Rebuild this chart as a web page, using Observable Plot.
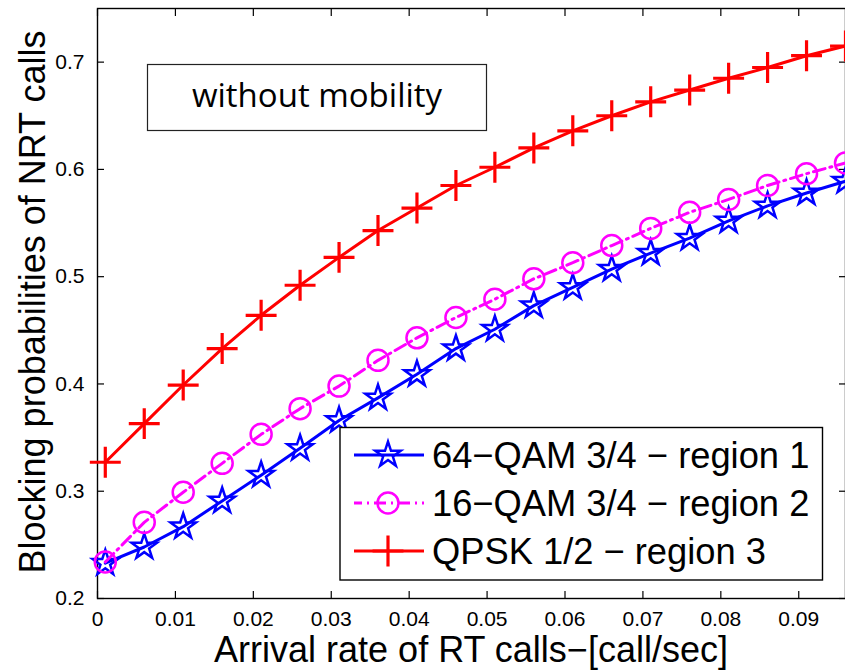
<!DOCTYPE html>
<html><head><meta charset="utf-8">
<script src="https://cdn.jsdelivr.net/npm/d3@7"></script>
<script src="https://cdn.jsdelivr.net/npm/@observablehq/plot@0.6"></script>
<style>body{margin:0;background:#fff;} svg{display:block}</style>
</head><body><div id="chart"></div>
<script>
// ---- data ----
const arrivalRate = [0.001, 0.006, 0.011, 0.016, 0.021, 0.026, 0.031, 0.036, 0.041, 0.046,
                     0.051, 0.056, 0.061, 0.066, 0.071, 0.076, 0.081, 0.086, 0.091, 0.096];
const qam64Region1 = [0.233, 0.248, 0.267, 0.291, 0.315, 0.340, 0.366, 0.387, 0.409, 0.433,
                      0.451, 0.473, 0.490, 0.507, 0.522, 0.536, 0.552, 0.566, 0.578, 0.589];
const qam16Region2 = [0.234, 0.271, 0.299, 0.326, 0.353, 0.377, 0.398, 0.422, 0.443, 0.462,
                      0.479, 0.498, 0.513, 0.529, 0.545, 0.560, 0.572, 0.585, 0.596, 0.606];
const qpskRegion3 = [0.327, 0.363, 0.399, 0.433, 0.464, 0.492, 0.518, 0.543, 0.564, 0.585,
                     0.602, 0.620, 0.636, 0.650, 0.663, 0.674, 0.685, 0.695, 0.706, 0.715];
const xTicks = [0, 0.01, 0.02, 0.03, 0.04, 0.05, 0.06, 0.07, 0.08, 0.09];
const xTickLabels = ["0", "0.01", "0.02", "0.03", "0.04", "0.05", "0.06", "0.07", "0.08", "0.09"];
const yTicks = [0.2, 0.3, 0.4, 0.5, 0.6, 0.7];
const yTickLabels = ["0.2", "0.3", "0.4", "0.5", "0.6", "0.7"];
const seriesNames = ["64\u2212QAM 3/4 \u2212 region 1", "16\u2212QAM 3/4 \u2212 region 2", "QPSK 1/2 \u2212 region 3"];
const xLabel = "Arrival rate of RT calls\u2212[call/sec]";
const yLabel = "Blocking probabilities of NRT calls";
const note = "without mobility";

// ---- build ----
const rows = arrivalRate.map((x, i) => ({x, a: qam64Region1[i], b: qam16Region2[i], c: qpskRegion3[i]}));
const BLUE = "#0000ff", MAG = "#ff00ff", RED = "#ff0000";
const DASHDOT = "12,5,2,5";
const W = 845, H = 672, mL = 97, mR = 0, mT = 8, mB = 74;
const FONT = "'Liberation Sans', Arial, Helvetica, sans-serif";
const R_STAR = 8, R_CIRC = 10.5, R_PLUS = 10;

const chart = Plot.plot({
  width: W, height: H,
  marginLeft: mL, marginRight: mR, marginTop: mT, marginBottom: mB,
  style: {fontFamily: FONT, background: "white", overflow: "visible", color: "black"},
  x: {domain: [0, 0.096]},
  y: {domain: [0.2, 0.75]},
  marks: [
    Plot.axisX(xTicks, {anchor: "bottom", tickSize: 0, tickPadding: 13, fontSize: 21, label: null,
      tickFormat: d => xTickLabels[xTicks.indexOf(d)]}),
    Plot.axisY(yTicks, {anchor: "left", tickSize: 0, tickPadding: 13, fontSize: 21, label: null,
      tickFormat: d => yTickLabels[yTicks.indexOf(d)]}),
    Plot.axisX(xTicks, {anchor: "bottom", tickSize: -7, text: null, label: null, strokeWidth: 1.2}),
    Plot.axisX(xTicks, {anchor: "top", tickSize: -7, text: null, label: null, strokeWidth: 1.2}),
    Plot.axisY(yTicks, {anchor: "left", tickSize: -7, text: null, label: null, strokeWidth: 1.2}),
    Plot.axisY(yTicks, {anchor: "right", tickSize: -7, text: null, label: null, strokeWidth: 1.2}),
    Plot.frame({stroke: "black", strokeWidth: 1.4}),
    Plot.line(rows, {x: "x", y: "a", stroke: BLUE, strokeWidth: 3}),
    Plot.dot(rows, {x: "x", y: "a", symbol: "star", r: R_STAR, stroke: BLUE, fill: "none", strokeWidth: 2.5}),
    Plot.line(rows, {x: "x", y: "b", stroke: MAG, strokeWidth: 3, strokeDasharray: DASHDOT}),
    Plot.dot(rows, {x: "x", y: "b", symbol: "circle", r: R_CIRC, stroke: MAG, fill: "none", strokeWidth: 2.5}),
    Plot.line(rows, {x: "x", y: "c", stroke: RED, strokeWidth: 3}),
    Plot.dot(rows, {x: "x", y: "c", symbol: "plus", r: R_PLUS, stroke: RED, fill: "none", strokeWidth: 3.2})
  ]
});
document.getElementById("chart").appendChild(chart);

// ---- annotations (layout) ----
const svg = d3.select(chart);
// axis titles
svg.append("text").attr("x", 471).attr("y", 662).attr("text-anchor", "middle")
  .attr("font-family", FONT).attr("font-size", 36).attr("fill", "black").text(xLabel);
svg.append("text").attr("transform", "translate(45,302) rotate(-90)").attr("text-anchor", "middle")
  .attr("font-family", FONT).attr("font-size", 36).attr("fill", "black").text(yLabel);

// note box
svg.append("rect").attr("x", 147.5).attr("y", 64.5).attr("width", 339).attr("height", 66)
  .attr("fill", "white").attr("stroke", "#222").attr("stroke-width", 1.2);
svg.append("text").attr("x", 317).attr("y", 106.5).attr("text-anchor", "middle")
  .attr("font-family", "'Open Sans', 'Noto Sans', sans-serif").attr("font-size", 33).attr("fill", "black").text(note);

// legend
const lg = svg.append("g");
lg.append("rect").attr("x", 340).attr("y", 427.5).attr("width", 482.5).attr("height", 152.5)
  .attr("fill", "white").attr("stroke", "black").attr("stroke-width", 1.4);
const legendDefs = [
  {name: seriesNames[0], color: BLUE, dash: null, sym: d3.symbolStar, size: Math.PI * R_STAR * R_STAR, sw: 2.5},
  {name: seriesNames[1], color: MAG, dash: DASHDOT, sym: d3.symbolCircle, size: Math.PI * R_CIRC * R_CIRC, sw: 2.5},
  {name: seriesNames[2], color: RED, dash: null, sym: d3.symbolPlus, size: Math.PI * R_PLUS * R_PLUS, sw: 3.2}
];
legendDefs.forEach((d, i) => {
  const cy = 455 + i * 48;
  const ln = lg.append("line").attr("x1", 354).attr("x2", 424).attr("y1", cy).attr("y2", cy)
    .attr("stroke", d.color).attr("stroke-width", 3);
  if (d.dash) ln.attr("stroke-dasharray", d.dash).attr("stroke-dashoffset", 4);
  lg.append("path").attr("d", d3.symbol(d.sym, d.size)()).attr("transform", `translate(388,${cy})`)
    .attr("fill", "none").attr("stroke", d.color).attr("stroke-width", d.sw);
  lg.append("text").attr("x", 432).attr("y", cy + 13).attr("text-anchor", "start")
    .attr("font-family", FONT).attr("font-size", 36.3).attr("fill", "black").text(d.name);
});
</script>
</body></html>
